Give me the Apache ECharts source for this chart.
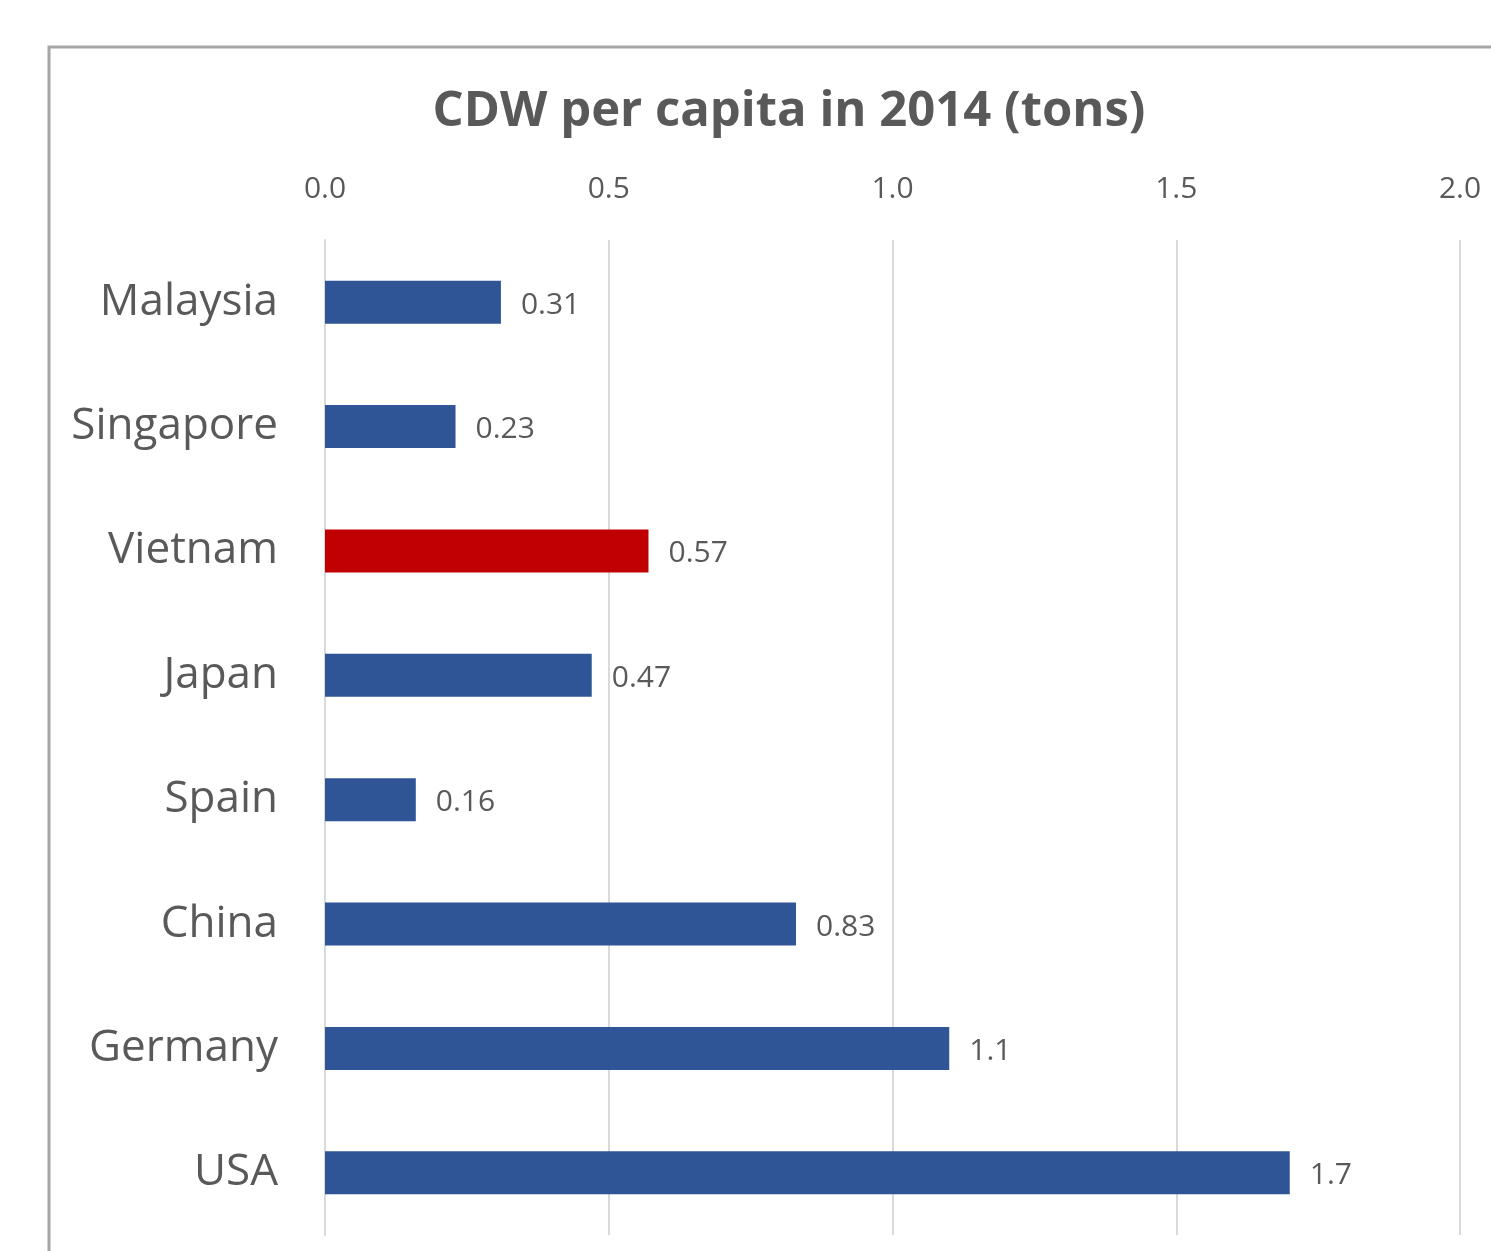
<!DOCTYPE html>
<html>
<head>
<meta charset="utf-8">
<script src="https://cdn.jsdelivr.net/npm/echarts@6/dist/echarts.min.js"></script>
<style>
  html, body { margin: 0; padding: 0; background: #ffffff; }
  #chart { width: 1491px; height: 1251px; }
</style>
</head>
<body>
<div id="chart"></div>
<script>
// Construction & demolition waste per capita, 2014 (tons)
const countries = ['Malaysia', 'Singapore', 'Vietnam', 'Japan', 'Spain', 'China', 'Germany', 'USA'];
const cdwPerCapita = [0.31, 0.23, 0.57, 0.47, 0.16, 0.83, 1.1, 1.7];
const highlightCountry = 'Vietnam';
const axisTicks = [0, 0.5, 1.0, 1.5, 2.0];

const BLUE = '#2F5597';
const RED = '#C00000';
const TEXT = '#595959';
const FONT = '"Open Sans", "Liberation Sans", sans-serif';

const chart = echarts.init(document.getElementById('chart'));

chart.setOption({
  backgroundColor: '#ffffff',
  animation: false,
  title: {
    text: 'CDW per capita in 2014 (tons)',
    left: 784,
    textAlign: 'center',
    top: 83,
    textStyle: { fontFamily: FONT, fontWeight: 'bold', fontSize: 49, color: TEXT }
  },
  graphic: [{
    type: 'rect',
    z: -10,
    shape: { x: 49, y: 47, width: 1600, height: 1400 },
    style: { fill: 'none', stroke: '#a6a6a6', lineWidth: 3 }
  }],
  grid: { left: 325, top: 240, width: 1135, height: 995 },
  xAxis: {
    type: 'value',
    position: 'top',
    min: axisTicks[0],
    max: axisTicks[axisTicks.length - 1],
    interval: axisTicks[1] - axisTicks[0],
    axisLine: { show: false },
    axisTick: { show: false },
    axisLabel: {
      margin: 36,
      fontFamily: FONT, fontSize: 30, color: TEXT,
      formatter: v => v.toFixed(1)
    },
    splitLine: { show: true, lineStyle: { color: '#d9d9d9', width: 2 } }
  },
  yAxis: {
    type: 'category',
    inverse: true,
    data: countries,
    axisLine: { show: true, lineStyle: { color: '#d9d9d9', width: 2 } },
    axisTick: { show: false },
    axisLabel: { margin: 47, fontFamily: FONT, fontSize: 44, color: TEXT }
  },
  series: [{
    type: 'bar',
    barWidth: 43,
    data: cdwPerCapita.map((v, i) => ({
      value: v,
      itemStyle: { color: countries[i] === highlightCountry ? RED : BLUE }
    })),
    label: {
      show: true,
      position: 'right',
      distance: 20,
      offset: [0, 3],
      fontFamily: FONT, fontSize: 30, color: TEXT,
      formatter: p => String(p.value)
    }
  }]
});
</script>
</body>
</html>
